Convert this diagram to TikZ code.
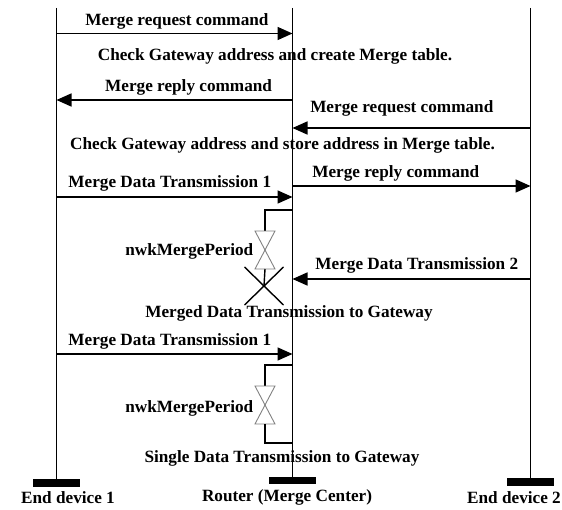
\documentclass[tikz,border=0pt]{standalone}
\usepackage{fontspec}
\setmainfont{Liberation Serif}
\usetikzlibrary{arrows.meta,calc}
\begin{document}
\begin{tikzpicture}[x=1pt,y=-1pt,
  lifeline/.style={line width=1.6pt},
  msg/.style={line width=1.6pt,-{Triangle[length=15pt,width=13pt]}},
  lbl/.style={anchor=base,inner sep=0pt,font=\fontsize{17.2}{20}\selectfont\bfseries},
  bar/.style={fill=black,draw=none,minimum width=47pt,minimum height=7.5pt,inner sep=0pt},
  bracket/.style={line width=1.4pt},
  hour/.style={draw=gray,line width=0.9pt},
  cross/.style={line width=1.4pt}]
\useasboundingbox (0,0) rectangle (562,510);
% devices (bars) and lifelines
\node[bar] (b1) at (56.5,483) {};
\node[bar] (b0) at (292.5,480.5) {};
\node[bar] (b2) at (530.5,482) {};
\coordinate (t1) at (56.5,8);
\coordinate (t0) at (292.5,8);
\coordinate (t2) at (530.5,8);
\draw[lifeline] (t1) -- (b1.north);
\draw[lifeline] (t0) -- (b0.north);
\draw[lifeline] (t2) -- (b2.north);
\node[lbl] (n1) at (68,503) {End device 1};
\node[lbl] (n0) at (287,501) {Router (Merge Center)};
\node[lbl] (n2) at (514,503) {End device 2};
% message end points
\coordinate (m1a) at (56.5,33.5);  \coordinate (m1b) at (292.5,33.5);
\coordinate (m2a) at (292.5,100);  \coordinate (m2b) at (56.5,100);
\coordinate (m3a) at (530.5,128);  \coordinate (m3b) at (292.5,128);
\coordinate (m4a) at (292.5,186);  \coordinate (m4b) at (530.5,186);
\coordinate (m5a) at (56.5,197);   \coordinate (m5b) at (292.5,197);
\coordinate (m6a) at (530.5,279);  \coordinate (m6b) at (292.5,279);
\coordinate (m7a) at (56.5,354);   \coordinate (m7b) at (292.5,354);
\draw[msg] (m1a) -- (m1b);
\draw[msg] (m2a) -- (m2b);
\draw[msg] (m3a) -- (m3b);
\draw[msg] (m4a) -- (m4b);
\draw[msg] (m5a) -- (m5b);
\draw[msg] (m6a) -- (m6b);
\draw[msg] (m7a) -- (m7b);
% labels
\node[lbl] (l1) at (177,26) {Merge request command};
\node[lbl] (l2) at (275,61) {Check Gateway address and create Merge table.};
\node[lbl] (l3) at (188.6,92) {Merge reply command};
\node[lbl] (l4) at (401.8,113) {Merge request command};
\node[lbl] (l5) at (282.5,150) {Check Gateway address and store address in Merge table.};
\node[lbl] (l6) at (395.8,178) {Merge reply command};
\node[lbl] (l7) at (169.8,188) {Merge Data Transmission 1};
\node[lbl,anchor=base east] (l8) at (253.5,256) {nwkMergePeriod};
\node[lbl] (l9) at (416.8,270) {Merge Data Transmission 2};
\node[lbl] (l10) at (289,318) {Merged Data Transmission to Gateway};
\node[lbl] (l11) at (169.8,345) {Merge Data Transmission 1};
\node[lbl,anchor=base east] (l12) at (253.5,412) {nwkMergePeriod};
\node[lbl] (l13) at (282,462) {Single Data Transmission to Gateway};
% first timer (expires -> cross)
\coordinate (p1s) at (292.5,210);
\coordinate (p1a) at (265,231);
\coordinate (p1m) at (265,250);
\coordinate (p1b) at (265,269);
\coordinate (x1) at (264,286);
\draw[bracket] (p1s) -| (p1a);
\draw[hour] (255,231) -- (275,231) -- (p1m) -- cycle;
\draw[hour] (p1m) -- (255,269) -- (275,269) -- cycle;
\draw[bracket] (p1b) -- (x1);
\draw[cross] ($(x1)+(-19.5,-19)$) -- ($(x1)+(19.5,19)$);
\draw[cross] ($(x1)+(19.5,-19)$) -- ($(x1)+(-19.5,19)$);
% second timer
\coordinate (p2s) at (292.5,365);
\coordinate (p2a) at (265,386);
\coordinate (p2m) at (265,405);
\coordinate (p2b) at (265,424);
\coordinate (p2e) at (292.5,443);
\draw[bracket] (p2s) -| (p2a);
\draw[hour] (255,386) -- (275,386) -- (p2m) -- cycle;
\draw[hour] (p2m) -- (255,424) -- (275,424) -- cycle;
\draw[bracket] (p2b) |- (p2e);
\end{tikzpicture}
\end{document}
